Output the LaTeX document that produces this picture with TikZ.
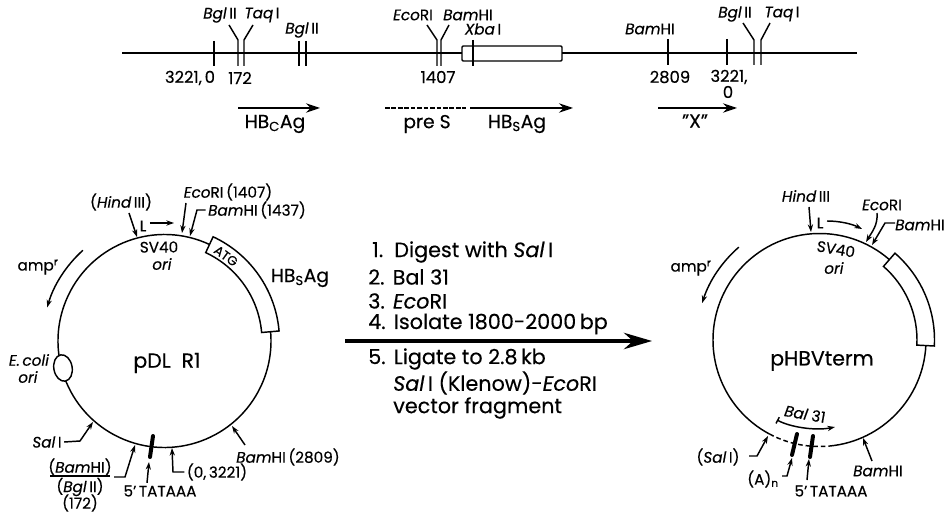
\documentclass[tikz,border=0pt]{standalone}
\usepackage{fontspec}
\setmainfont{Poppins}[FakeBold=0.35]
\usetikzlibrary{arrows.meta,shapes.geometric}
\tikzset{
  lab/.style={inner sep=2pt, font=\fontsize{13}{13}\selectfont},
  numlab/.style={inner sep=2pt, font=\fontsize{14}{14}\selectfont},
  biglab/.style={inner sep=2pt, font=\fontsize{16}{16}\selectfont},
  steplab/.style={inner sep=0pt, anchor=west, font=\fontsize{17.7}{17}\selectfont},
  line/.style={line width=1.25pt},
  maparrow/.style={line width=1.25pt, -{Stealth[length=12pt,width=8pt]}},
  bar/.style={line width=3.4pt, line cap=round}
}
\begin{document}
\begin{tikzpicture}[>={Stealth[length=6.5pt,width=4.5pt]}, x=0.03cm, y=-0.03cm]
\useasboundingbox (0,0) rectangle (948,513);
% map
\node[lab] (bgla) at (220,15) {\textit{Bgl}\,II};
\node[lab] (taqa) at (262,15) {\textit{Taq}\,I};
\node[lab] (bglb) at (302,30) {\textit{Bgl}\,II};
\node[lab] (ecom) at (413,15) {\textit{Eco}RI};
\node[lab] (bamm) at (468,15) {\textit{Bam}HI};
\node[lab] (xbam) at (483,29) {\textit{Xba}\,I};
\node[lab] (bamn) at (650,29) {\textit{Bam}HI};
\node[lab] (bglc) at (735,14) {\textit{Bgl}\,II};
\node[lab] (taqb) at (782,14) {\textit{Taq}\,I};
\node[numlab] (posa) at (190,78) {3221,\,0};
\node[numlab] (posb) at (240,78) {172};
\node[numlab] (posc) at (438,77) {1407};
\node[numlab] (posd) at (670,77) {2809};
\node[numlab] (pose) at (729,77) {3221,};
\node[numlab] (posf) at (728,92) {0};
\draw[line] (122,53) -- (462,53);
\draw[line] (562,53) -- (857,53);
\draw[line, rounded corners=1pt] (462,46) rectangle (562,61);
\draw[line] (214,41) -- (214,66) (299,41) -- (299,66) (306,41) -- (306,66)
  (473,40) -- (473,66) (668,39) -- (668,65) (727,39) -- (727,65);
\coordinate (tba) at (238,40);
\coordinate (tta) at (244,40);
\coordinate (teco) at (437,40);
\coordinate (tbam) at (441,40);
\coordinate (tbc) at (754,40);
\coordinate (ttb) at (761,40);
\draw[line] (229,25) -- (tba) -- (238,66);
\draw[line] (253,25) -- (tta) -- (244,66);
\draw[line] (427,25) -- (teco) -- (437,66);
\draw[line] (449,25) -- (tbam) -- (441,66);
\draw[line] (743,23) -- (tbc) -- (754,65);
\draw[line] (770,23) -- (ttb) -- (761,65);
% genes
\node[biglab] (hbc) at (275,124) {HB\textsubscript{C}Ag};
\node[biglab] (pres) at (427,124) {pre S};
\node[biglab] (hbs) at (517,124) {HB\textsubscript{S}Ag};
\node[biglab] (xgene) at (695,121) {"X"};
\draw[maparrow] (238,108) -- (320,108);
\draw[line, dashed, dash pattern=on 4pt off 1.5pt] (385,108) -- (466,108);
\draw[maparrow] (470,108) -- (573,108);
\draw[maparrow] (658,108) -- (737,108);
% pDL R1
\coordinate (cl) at (164.5,341);
\draw[line] (cl) ++(65:3.195cm) arc[start angle=65, end angle=365, radius=3.195cm];
\draw[line] (cl) ++(65:2.925cm) arc[start angle=65, end angle=5, radius=2.925cm]
  -- ++(5:0.525cm) arc[start angle=5, end angle=65, radius=3.45cm] -- cycle;
\node[lab, rotate=-36, inner sep=0pt, font=\fontsize{11}{11}\selectfont] (atg) at (226,256) {ATG};
\node[draw, line, fill=white, ellipse, minimum width=0.55cm, minimum height=0.8cm, inner sep=0pt, rotate=10] (ecoli) at (63,368) {};
\node[biglab, font=\fontsize{17.5}{17}\selectfont] (plr) at (167,363) {pDL\ \ R1};
\node[biglab] (hbsl) at (300,278) {HB\textsubscript{S}Ag};
\node[lab] (sva) at (159,247) {SV40};
\node[lab] (oria) at (162,264) {\textit{ori}};
\node[lab] (ampa) at (38,267) {amp\textsuperscript{r}};
\node[lab] (ecola) at (29,360) {\textit{E.\,coli}};
\node[lab] (orib) at (28,377) {\textit{ori}};
\node[lab] (hinda) at (121,202) {(\textit{Hind}\,III)};
\node[lab] (ecoa) at (228,192) {\textit{Eco}RI\,(1407)};
\node[lab] (bama) at (257,210) {\textit{Bam}HI\,(1437)};
\node[lab] (la) at (143,226) {L};
\node[lab] (sala) at (47,442) {\textit{Sal}\,I};
\node[lab] (bamb) at (80,467) {(\textit{Bam}HI)};
\node[lab] (bgld) at (80,487) {(\textit{Bgl}\,II)};
\node[lab] (ptt) at (80,503) {(172)};
\node[lab] (tata) at (160,491) {5'\,TATAAA};
\node[lab] (zero) at (217,472) {(0,\,3221)};
\node[lab] (bamc) at (288,457) {\textit{Bam}HI\,(2809)};
\draw[line] (50,476) -- (110,476);
\draw[line, ->] (la.east) ++(1,-3) -- (174,223);
\draw[line, ->] (cl) ++(132:3.66cm) arc[start angle=132, end angle=164, radius=3.66cm];
\coordinate (phind) at (137,237);
\coordinate (peco) at (182,233);
\coordinate (pbam) at (190,236);
\coordinate (psal) at (93,422);
\coordinate (pbgl) at (135,445);
\coordinate (ptata) at (149,462);
\coordinate (pzero) at (172,448);
\coordinate (pbamc) at (232,426);
\draw[line, ->] (129,213) -- (phind);
\draw[line, ->] (186,203) -- (peco);
\draw[line, ->] (bama.west) -- (197,210) -- (pbam);
\draw[line, ->] (sala.east) -- (80,441) -- (psal);
\draw[line, ->] (114,477) -- (125,477) -- (pbgl);
\draw[line, ->] (tata.north) ++(-13,0) -- (ptata);
\draw[line, ->] (zero.west) -- (173,472) -- (pzero);
\draw[line, ->] (245,445) -- (pbamc);
\draw[bar] (153,436) -- (150,457);
% steps
\node[steplab] (stepa) at (372,252) {1.\hspace{9.5pt}Digest with \textit{Sal}\,I};
\node[steplab] (stepb) at (368,277) {2.\hspace{7pt}Bal 31};
\node[steplab] (stepc) at (368,301) {3.\hspace{7pt}\textit{Eco}RI};
\node[steplab] (stepd) at (368,324) {4.\hspace{7pt}Isolate 1800-2000\,bp};
\node[steplab] (stepe) at (368,359) {5.\hspace{7pt}Ligate to 2.8\,kb};
\node[steplab] (stepf) at (393,383) {\textit{Sal}\,I (Klenow)-\textit{Eco}RI};
\node[steplab] (stepg) at (393,408) {vector fragment};
\coordinate (arrl) at (345,341);
\coordinate (arrr) at (652,341);
\draw[line width=2.6pt, -{Stealth[length=24pt,width=14pt]}] (arrl) -- (arrr);
% pHBVterm
\coordinate (cr) at (819.5,340);
\draw[line] (cr) ++(49:3.195cm) arc[start angle=49, end angle=242, radius=3.195cm];
\draw[line, dashed, dash pattern=on 4pt off 2.5pt] (cr) ++(242:3.195cm) arc[start angle=242, end angle=275.6, radius=3.195cm];
\draw[line] (cr) ++(275.6:3.195cm) arc[start angle=275.6, end angle=357, radius=3.195cm];
\draw[line] (cr) ++(49:2.925cm) arc[start angle=49, end angle=-3, radius=2.925cm]
  -- ++(-3:0.525cm) arc[start angle=-3, end angle=49, radius=3.45cm] -- cycle;
\node[biglab, font=\fontsize{17.5}{17}\selectfont] (prr) at (822,361) {pHBVterm};
\node[lab, rotate=-10] (svb) at (836,249) {SV40};
\node[lab] (oric) at (834,268) {\textit{ori}};
\node[lab] (ampb) at (691,268) {amp\textsuperscript{r}};
\node[lab] (hindb) at (806,196) {\textit{Hind}\,III};
\node[lab] (lb) at (820,223) {L};
\node[lab] (ecob) at (882,205) {\textit{Eco}RI};
\node[lab] (bamd) at (920,225) {\textit{Bam}HI};
\node[lab] (salb) at (718,457) {(\textit{Sal}\,I)};
\node[lab] (an) at (763,479) {(A)\textsubscript{n}};
\node[lab] (tatb) at (831,491) {5'\,TATAAA};
\node[lab] (bame) at (878,471) {\textit{Bam}HI};
\node[lab, rotate=-10] (bal) at (805,414) {\textit{Bal} 31};
\draw[line, ->] (cr) ++(131:3.69cm) arc[start angle=131, end angle=162.5, radius=3.69cm];
\coordinate (qhind) at (811,232);
\coordinate (qeco) at (866,242);
\coordinate (qbam) at (872,245);
\coordinate (qsal) at (768,436);
\coordinate (qan) at (792,458);
\coordinate (qtata) at (809,459);
\coordinate (qbame) at (863,438);
\coordinate (qbals) at (777,420);
\coordinate (qbalm) at (835,427);
\draw[line, ->] (809,207) -- (qhind);
\draw[line, ->] (827,221) .. controls (840,221) and (852,224) .. (862,229);
\draw[line, ->] (877,213) .. controls (878,225) and (872,232) .. (qeco);
\draw[line, ->] (895,223) -- (885,223) -- (qbam);
\draw[line, ->] (749,456) -- (757,456) -- (qsal);
\draw[line, ->] (782,476) -- (787,476) -- (qan);
\draw[line, ->] (807,480) -- (qtata);
\draw[line, ->] (872,461) -- (qbame);
\draw[line, {Bar[width=6pt]}->] (qbals) .. controls (790,427) and (815,431) .. (qbalm);
\draw[bar] (797,434) -- (792,455);
\draw[bar] (813,436) -- (810,457);
\end{tikzpicture}
\end{document}
